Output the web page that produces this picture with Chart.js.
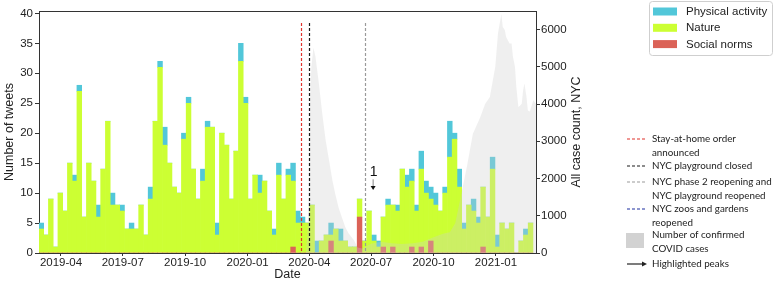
<!DOCTYPE html>
<html>
<head>
<meta charset="utf-8">
<script src="https://cdn.jsdelivr.net/npm/chart.js@4.4.1/dist/chart.umd.min.js"></script>
<style>
  html, body { margin: 0; padding: 0; background: #fff; }
</style>
</head>
<body>
<canvas id="tweets-chart" width="777" height="283"></canvas>
<script>
// weekly tweet counts, first week starting 2019-03-03
const firstWeek = '2019-03-03';

const nature = [
  4, 3, 9, 1, 10, 7, 15, 12, 27, 6,
  15, 12, 6, 14, 22, 8, 8, 7, 4, 4,
  4, 8, 3, 9, 22, 31, 18, 15, 11, 10,
  19, 25, 14, 9, 12, 21, 21, 3, 20, 18,
  9, 17, 32, 25, 9, 13, 10, 12, 7, 3,
  13, 9, 13, 11, 5, 5, 5, 8, 0, 2,
  3, 1, 4, 2, 2, 1, 1, 3, 2, 7,
  2, 1, 5, 8, 7, 7, 14, 11, 11, 7,
  13, 10, 7, 8, 7, 10, 16, 19, 11, 4,
  8, 7, 5, 10, 6, 14, 1, 5, 4, 5,
  0, 2, 3, 5
];

const physicalActivity = [
  1, 0, 0, 0, 0, 0, 0, 1, 1, 0,
  0, 0, 2, 0, 0, 2, 0, 1, 0, 1,
  0, 0, 0, 2, 0, 1, 3, 0, 0, 0,
  1, 1, 0, 0, 2, 1, 0, 2, 0, 0,
  0, 0, 3, 1, 0, 0, 3, 0, 0, 1,
  2, 0, 1, 3, 2, 1, 0, 0, 2, 0,
  0, 2, 0, 2, 0, 0, 0, 0, 0, 0,
  1, 1, 0, 1, 0, 1, 0, 2, 2, 1,
  3, 2, 2, 2, 0, 1, 6, 1, 3, 1,
  0, 2, 1, 0, 0, 2, 2, 0, 0, 0,
  0, 0, 1, 0
];

const socialNorms = [
  0, 0, 0, 0, 0, 0, 0, 0, 0, 0,
  0, 0, 0, 0, 0, 0, 0, 0, 0, 0,
  0, 0, 0, 0, 0, 0, 0, 0, 0, 0,
  0, 0, 0, 0, 0, 0, 0, 0, 0, 0,
  0, 0, 0, 0, 0, 0, 0, 0, 0, 0,
  0, 0, 0, 1, 0, 0, 0, 0, 0, 0,
  0, 2, 0, 0, 0, 0, 0, 6, 0, 0,
  0, 0, 1, 0, 1, 0, 0, 0, 1, 0,
  1, 0, 2, 0, 0, 0, 0, 0, 0, 0,
  0, 0, 0, 1, 0, 0, 0, 0, 0, 0,
  0, 0, 0, 0
];

// confirmed COVID cases, NYC
const caseDates = [
  '2020-03-27', '2020-03-29', '2020-03-31', '2020-04-02', '2020-04-04', '2020-04-07',
  '2020-04-10', '2020-04-15', '2020-04-20', '2020-04-25', '2020-04-30', '2020-05-05',
  '2020-05-09', '2020-05-14', '2020-05-19', '2020-05-24', '2020-05-29', '2020-06-06',
  '2020-06-11', '2020-06-18', '2020-07-01', '2020-07-15', '2020-08-01', '2020-08-15',
  '2020-09-01', '2020-09-15', '2020-10-01', '2020-10-15', '2020-10-25', '2020-11-02',
  '2020-11-09', '2020-11-19', '2020-11-28', '2020-12-09', '2020-12-16', '2020-12-23',
  '2020-12-31', '2021-01-04', '2021-01-09', '2021-01-11', '2021-01-14', '2021-01-16',
  '2021-01-21', '2021-01-24', '2021-01-26', '2021-01-29', '2021-01-31', '2021-02-03',
  '2021-02-05', '2021-02-08', '2021-02-10', '2021-02-12', '2021-02-15', '2021-02-17',
  '2021-02-20', '2021-02-22', '2021-02-25', '2021-03-01'
];
const caseCounts = [
  0, 500, 1500, 4100, 5000, 5510,
  5270, 4560, 3750, 3030, 2490, 1950,
  1600, 1220, 955, 690, 525, 335,
  150, 120, 250, 300, 260, 240,
  260, 300, 420, 520, 560, 800,
  1410, 2300, 3200, 3650, 4000, 4190,
  5000, 5900, 6420, 6070, 5990, 5800,
  5630, 5630, 5270, 5000, 4460, 3920,
  3950, 4010, 4370, 4550, 4190, 3830,
  3800, 3920, 4100, 4010
];

const tickLabels = ['2019-04', '2019-07', '2019-10', '2020-01', '2020-04', '2020-07', '2020-10', '2021-01'];
const tweetTicks = [0, 5, 10, 15, 20, 25, 30, 35, 40];
const caseTicks = [0, 1000, 2000, 3000, 4000, 5000, 6000];

const eventDates = ['2020-03-20', '2020-04-01', '2020-06-22'];
const eventLabels = [
  ['Stay-at-home order', 'announced'],
  ['NYC playground closed'],
  ['NYC phase 2 reopening and', 'NYC playground reopened'],
  ['NYC zoos and gardens', 'reopened']
];
const peakDates = ['2020-07-04'];

const COLORS = {
  physical: '#52c7d9',
  nature: '#ccff33',
  social: '#db6257',
  cases: 'rgba(205, 205, 205, 0.32)',
  events: ['#e0302a', '#1a1a1a', '#9a9a9a', '#1c2fa0']
};
const FONT = 'Liberation Sans';

const ORIGIN = Date.UTC(2019, 3, 1);

function dayOf(str) {
  const p = str.split('-').map(Number);
  return (Date.UTC(p[0], p[1] - 1, p[2] || 1) - ORIGIN) / 86400000;
}

const weekDays = nature.map((v, i) => dayOf(firstWeek) + 7 * i);
const tickDays = tickLabels.map(dayOf);

function points(values) {
  return values.map((v, i) => ({x: weekDays[i], y: v}));
}

const decorations = {
  id: 'decorations',
  afterDatasetsDraw(chart) {
    const {ctx, chartArea: area, scales: {x, y}} = chart;
    ctx.save();

    // top frame
    ctx.strokeStyle = '#333';
    ctx.lineWidth = 1;
    ctx.beginPath();
    ctx.moveTo(area.left, area.top + 0.5);
    ctx.lineTo(area.right, area.top + 0.5);
    ctx.stroke();

    // event lines
    ctx.lineWidth = 1.2;
    ctx.setLineDash([3, 2]);
    eventDates.forEach((d, i) => {
      const px = Math.round(x.getPixelForValue(dayOf(d))) + 0.5;
      ctx.strokeStyle = COLORS.events[i];
      ctx.beginPath();
      ctx.moveTo(px, y.getPixelForValue(38.4));
      ctx.lineTo(px, area.bottom);
      ctx.stroke();
    });
    ctx.setLineDash([]);

    // highlighted peaks
    peakDates.forEach((d, i) => {
      const px = x.getPixelForValue(dayOf(d));
      ctx.fillStyle = '#111';
      ctx.font = '14px ' + FONT;
      ctx.textAlign = 'center';
      ctx.textBaseline = 'middle';
      ctx.fillText(String(i + 1), px + 0.5, y.getPixelForValue(13.5));
      const top = y.getPixelForValue(12.3);
      const tip = y.getPixelForValue(10.5);
      ctx.strokeStyle = '#666';
      ctx.lineWidth = 0.8;
      ctx.beginPath();
      ctx.moveTo(px, top);
      ctx.lineTo(px, tip - 3);
      ctx.stroke();
      ctx.beginPath();
      ctx.moveTo(px - 2.5, tip - 4);
      ctx.lineTo(px + 2.5, tip - 4);
      ctx.lineTo(px, tip);
      ctx.closePath();
      ctx.fill();
    });
    ctx.restore();
  },
  afterDraw(chart) {
    const {ctx, chartArea: area} = chart;
    ctx.save();
    ctx.fillStyle = '#222';

    // axis titles
    ctx.font = '12.5px ' + FONT;
    ctx.textAlign = 'center';
    ctx.textBaseline = 'middle';
    ctx.fillText('Date', (area.left + area.right) / 2, 275);
    [[10, 'Number of tweets'], [577, 'All case count, NYC']].forEach(([tx, text]) => {
      ctx.save();
      ctx.translate(tx, (area.top + area.bottom) / 2);
      ctx.rotate(-Math.PI / 2);
      ctx.fillText(text, 0, 0);
      ctx.restore();
    });

    // legend of the bars
    ctx.strokeStyle = '#cfcfcf';
    ctx.fillStyle = '#fff';
    ctx.lineWidth = 1;
    ctx.beginPath();
    ctx.roundRect(649.5, 1.5, 123, 54, 3);
    ctx.fill();
    ctx.stroke();
    ctx.font = '11.5px ' + FONT;
    ctx.textAlign = 'left';
    chart.data.datasets.filter(ds => ds.type !== 'line').reverse().forEach((ds, i) => {
      const cy = 11.5 + i * 16.3;
      ctx.fillStyle = ds.backgroundColor;
      ctx.fillRect(653, cy - 4, 24, 8);
      ctx.fillStyle = '#222';
      ctx.fillText(ds.label, 686, cy + 0.5);
    });

    // legend of the markers
    ctx.font = '9.8px Lato';
    ctx.lineWidth = 1.1;
    const rows = [139, 166, 182, 209];
    eventLabels.forEach((lines, i) => {
      const cy = rows[i];
      ctx.strokeStyle = COLORS.events[i];
      ctx.setLineDash([3, 2]);
      ctx.beginPath();
      ctx.moveTo(627, cy);
      ctx.lineTo(646, cy);
      ctx.stroke();
      ctx.setLineDash([]);
      ctx.fillStyle = '#222';
      lines.forEach((line, k) => ctx.fillText(line, 652, cy + k * 13.5));
    });
    ctx.fillStyle = '#d2d2d2';
    ctx.fillRect(626, 233, 18, 15);
    ctx.fillStyle = '#222';
    ctx.fillText('Number of confirmed', 652, 235);
    ctx.fillText('COVID cases', 652, 248.5);

    ctx.strokeStyle = '#111';
    ctx.beginPath();
    ctx.moveTo(627, 264);
    ctx.lineTo(643, 264);
    ctx.stroke();
    ctx.beginPath();
    ctx.moveTo(647, 264);
    ctx.lineTo(642, 261.5);
    ctx.lineTo(642, 266.5);
    ctx.closePath();
    ctx.fill();
    ctx.fillText('Highlighted peaks', 652, 264);
    ctx.restore();
  }
};

Chart.defaults.font.family = FONT;
Chart.defaults.color = '#222';

new Chart(document.getElementById('tweets-chart').getContext('2d'), {
  type: 'bar',
  data: {
    datasets: [
      {
        type: 'line',
        label: 'Number of confirmed COVID cases',
        data: caseDates.map((d, i) => ({x: dayOf(d), y: caseCounts[i]})),
        yAxisID: 'y2',
        fill: 'origin',
        backgroundColor: COLORS.cases,
        borderWidth: 0,
        pointRadius: 0,
        tension: 0,
        order: 0
      },
      {label: 'Social norms', data: points(socialNorms), backgroundColor: COLORS.social, order: 1},
      {label: 'Nature', data: points(nature), backgroundColor: COLORS.nature, order: 1},
      {label: 'Physical activity', data: points(physicalActivity), backgroundColor: COLORS.physical, order: 1}
    ]
  },
  options: {
    responsive: false,
    animation: false,
    devicePixelRatio: 1,
    layout: {padding: {top: 11, right: 181, bottom: 0, left: 0}},
    datasets: {
      bar: {barPercentage: 1, categoryPercentage: 1, borderWidth: 0}
    },
    plugins: {
      legend: {display: false},
      tooltip: {enabled: false}
    },
    scales: {
      x: {
        type: 'linear',
        min: -32.4,
        max: 700,
        offset: false,
        stacked: true,
        grid: {drawOnChartArea: false, offset: false, tickLength: 3, color: '#333'},
        border: {color: '#333'},
        afterBuildTicks: scale => { scale.ticks = tickDays.map(v => ({value: v})); },
        afterFit: scale => { scale.height = 30; },
        ticks: {
          autoSkip: false,
          maxRotation: 0,
          padding: 0,
          font: {size: 11.5},
          callback: value => tickLabels[tickDays.indexOf(value)]
        }
      },
      y: {
        position: 'left',
        min: 0,
        max: 40.4,
        stacked: true,
        grid: {drawOnChartArea: false, tickLength: 4, color: '#333'},
        border: {color: '#333'},
        afterBuildTicks: scale => { scale.ticks = tweetTicks.map(v => ({value: v})); },
        afterFit: scale => { scale.width = 39; },
        ticks: {autoSkip: false, padding: 2, font: {size: 11.5}, callback: value => String(value)}
      },
      y2: {
        position: 'right',
        min: 0,
        max: 6500,
        grid: {drawOnChartArea: false, tickLength: 4, color: '#333'},
        border: {color: '#333'},
        afterBuildTicks: scale => { scale.ticks = caseTicks.map(v => ({value: v})); },
        afterFit: scale => { scale.width = 60; },
        ticks: {autoSkip: false, padding: 1, font: {size: 11.5}, callback: value => String(value)}
      }
    }
  },
  plugins: [decorations]
});
</script>
</body>
</html>
